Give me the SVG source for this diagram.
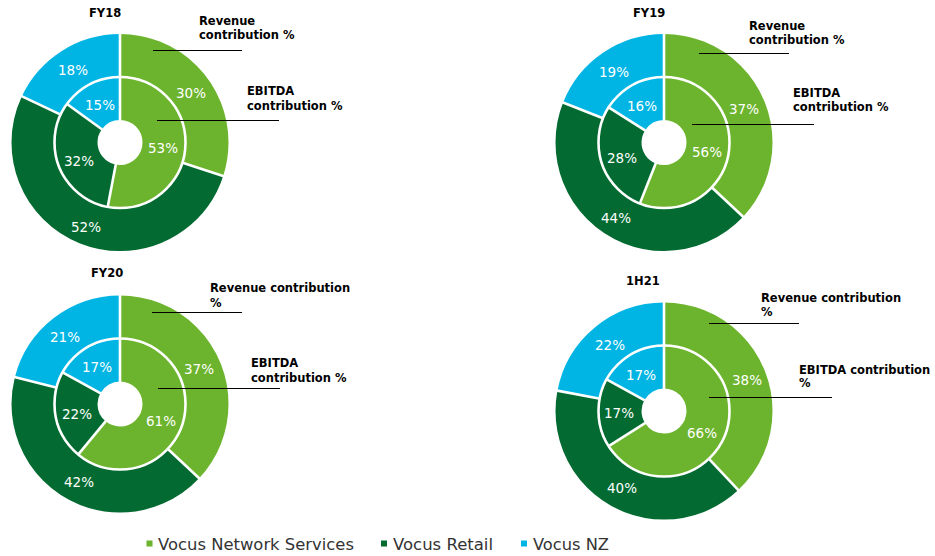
<svg xmlns="http://www.w3.org/2000/svg" width="935" height="556" viewBox="0 0 935 556">
<style>
.bg{fill:#fff}
.seg{fill:none}
.o{stroke-width:43}
.i{stroke-width:43}
.ns{stroke:#6CB42D}
.rt{stroke:#036B31}
.nz{stroke:#00B5E4}
.sep{stroke:#fff;stroke-width:2.6;fill:none}
.pct{font-family:"DejaVu Sans",Verdana,sans-serif;font-size:13.5px;fill:#fff;text-anchor:middle}
.ttl{font-family:"DejaVu Sans",Verdana,sans-serif;font-size:11.5px;font-weight:bold;fill:#000}
.lead{stroke:#000;stroke-width:1}
.leg{font-family:"DejaVu Sans",Verdana,sans-serif;font-size:15.5px;fill:#333}
</style>
<rect class="bg" x="0" y="0" width="935" height="556"/>

<g id="fy18">
  <g transform="translate(120,142.5)">
    <g transform="rotate(-90)">
      <circle class="seg o ns" r="87" pathLength="100" stroke-dasharray="30 100" stroke-dashoffset="0"/>
      <circle class="seg o rt" r="87" pathLength="100" stroke-dasharray="52 100" stroke-dashoffset="-30"/>
      <circle class="seg o nz" r="87" pathLength="100" stroke-dasharray="18 100" stroke-dashoffset="-82"/>
      <circle class="seg i ns" r="44" pathLength="100" stroke-dasharray="53 100" stroke-dashoffset="0"/>
      <circle class="seg i rt" r="44" pathLength="100" stroke-dasharray="32 100" stroke-dashoffset="-53"/>
      <circle class="seg i nz" r="44" pathLength="100" stroke-dasharray="15 100" stroke-dashoffset="-85"/>
    </g>
    <circle class="sep" r="65.5"/>
    <line class="sep" x1="0" y1="-22" x2="0" y2="-110"/>
    <line class="sep" x1="0" y1="-65" x2="0" y2="-110" transform="rotate(108)"/>
    <line class="sep" x1="0" y1="-65" x2="0" y2="-110" transform="rotate(295.2)"/>
    <line class="sep" x1="0" y1="-22" x2="0" y2="-66" transform="rotate(190.8)"/>
    <line class="sep" x1="0" y1="-22" x2="0" y2="-66" transform="rotate(306)"/>
  </g>
  <text class="pct" x="191" y="98">30%</text>
  <text class="pct" x="86" y="232">52%</text>
  <text class="pct" x="73" y="75">18%</text>
  <text class="pct" x="163" y="153">53%</text>
  <text class="pct" x="79" y="166">32%</text>
  <text class="pct" x="100" y="110">15%</text>
  <text class="ttl" x="89" y="17">FY18</text>
  <text class="ttl" x="199" y="25">Revenue</text>
  <text class="ttl" x="199" y="38.5">contribution %</text>
  <text class="ttl" x="247" y="95">EBITDA</text>
  <text class="ttl" x="247" y="110">contribution %</text>
</g>

<g id="fy19">
  <g transform="translate(664,142.5)">
    <g transform="rotate(-90)">
      <circle class="seg o ns" r="87" pathLength="100" stroke-dasharray="37 100" stroke-dashoffset="0"/>
      <circle class="seg o rt" r="87" pathLength="100" stroke-dasharray="44 100" stroke-dashoffset="-37"/>
      <circle class="seg o nz" r="87" pathLength="100" stroke-dasharray="19 100" stroke-dashoffset="-81"/>
      <circle class="seg i ns" r="44" pathLength="100" stroke-dasharray="56 100" stroke-dashoffset="0"/>
      <circle class="seg i rt" r="44" pathLength="100" stroke-dasharray="28 100" stroke-dashoffset="-56"/>
      <circle class="seg i nz" r="44" pathLength="100" stroke-dasharray="16 100" stroke-dashoffset="-84"/>
    </g>
    <circle class="sep" r="65.5"/>
    <line class="sep" x1="0" y1="-22" x2="0" y2="-110"/>
    <line class="sep" x1="0" y1="-65" x2="0" y2="-110" transform="rotate(133.2)"/>
    <line class="sep" x1="0" y1="-65" x2="0" y2="-110" transform="rotate(291.6)"/>
    <line class="sep" x1="0" y1="-22" x2="0" y2="-66" transform="rotate(201.6)"/>
    <line class="sep" x1="0" y1="-22" x2="0" y2="-66" transform="rotate(302.4)"/>
  </g>
  <text class="pct" x="744" y="114">37%</text>
  <text class="pct" x="616" y="223">44%</text>
  <text class="pct" x="614" y="77">19%</text>
  <text class="pct" x="707" y="157">56%</text>
  <text class="pct" x="622" y="163">28%</text>
  <text class="pct" x="642" y="111">16%</text>
  <text class="ttl" x="633" y="17">FY19</text>
  <text class="ttl" x="749" y="30">Revenue</text>
  <text class="ttl" x="749" y="44">contribution %</text>
  <text class="ttl" x="793" y="97">EBITDA</text>
  <text class="ttl" x="793" y="111">contribution %</text>
</g>

<g id="fy20">
  <g transform="translate(120,404)">
    <g transform="rotate(-90)">
      <circle class="seg o ns" r="87" pathLength="100" stroke-dasharray="37 100" stroke-dashoffset="0"/>
      <circle class="seg o rt" r="87" pathLength="100" stroke-dasharray="42 100" stroke-dashoffset="-37"/>
      <circle class="seg o nz" r="87" pathLength="100" stroke-dasharray="21 100" stroke-dashoffset="-79"/>
      <circle class="seg i ns" r="44" pathLength="100" stroke-dasharray="61 100" stroke-dashoffset="0"/>
      <circle class="seg i rt" r="44" pathLength="100" stroke-dasharray="22 100" stroke-dashoffset="-61"/>
      <circle class="seg i nz" r="44" pathLength="100" stroke-dasharray="17 100" stroke-dashoffset="-83"/>
    </g>
    <circle class="sep" r="65.5"/>
    <line class="sep" x1="0" y1="-22" x2="0" y2="-110"/>
    <line class="sep" x1="0" y1="-65" x2="0" y2="-110" transform="rotate(133.2)"/>
    <line class="sep" x1="0" y1="-65" x2="0" y2="-110" transform="rotate(284.4)"/>
    <line class="sep" x1="0" y1="-22" x2="0" y2="-66" transform="rotate(219.6)"/>
    <line class="sep" x1="0" y1="-22" x2="0" y2="-66" transform="rotate(298.8)"/>
  </g>
  <text class="pct" x="199" y="374">37%</text>
  <text class="pct" x="79" y="487">42%</text>
  <text class="pct" x="65" y="342">21%</text>
  <text class="pct" x="161" y="426">61%</text>
  <text class="pct" x="77" y="419">22%</text>
  <text class="pct" x="97" y="372">17%</text>
  <text class="ttl" x="91" y="277">FY20</text>
  <text class="ttl" x="210" y="292">Revenue contribution</text>
  <text class="ttl" x="210" y="307">%</text>
  <text class="ttl" x="251" y="367">EBITDA</text>
  <text class="ttl" x="251" y="382">contribution %</text>
</g>

<g id="h121">
  <g transform="translate(664,411)">
    <g transform="rotate(-90)">
      <circle class="seg o ns" r="87" pathLength="100" stroke-dasharray="38 100" stroke-dashoffset="0"/>
      <circle class="seg o rt" r="87" pathLength="100" stroke-dasharray="40 100" stroke-dashoffset="-38"/>
      <circle class="seg o nz" r="87" pathLength="100" stroke-dasharray="22 100" stroke-dashoffset="-78"/>
      <circle class="seg i ns" r="44" pathLength="100" stroke-dasharray="66 100" stroke-dashoffset="0"/>
      <circle class="seg i rt" r="44" pathLength="100" stroke-dasharray="17 100" stroke-dashoffset="-66"/>
      <circle class="seg i nz" r="44" pathLength="100" stroke-dasharray="17 100" stroke-dashoffset="-83"/>
    </g>
    <circle class="sep" r="65.5"/>
    <line class="sep" x1="0" y1="-22" x2="0" y2="-110"/>
    <line class="sep" x1="0" y1="-65" x2="0" y2="-110" transform="rotate(136.8)"/>
    <line class="sep" x1="0" y1="-65" x2="0" y2="-110" transform="rotate(280.8)"/>
    <line class="sep" x1="0" y1="-22" x2="0" y2="-66" transform="rotate(237.6)"/>
    <line class="sep" x1="0" y1="-22" x2="0" y2="-66" transform="rotate(298.8)"/>
  </g>
  <text class="pct" x="747" y="385">38%</text>
  <text class="pct" x="622" y="493">40%</text>
  <text class="pct" x="610" y="350">22%</text>
  <text class="pct" x="702" y="438">66%</text>
  <text class="pct" x="619" y="418">17%</text>
  <text class="pct" x="641" y="380">17%</text>
  <text class="ttl" x="626" y="285">1H21</text>
  <text class="ttl" x="761" y="302">Revenue contribution</text>
  <text class="ttl" x="761" y="315.5">%</text>
  <text class="ttl" x="799" y="374">EBITDA contribution</text>
  <text class="ttl" x="799" y="387">%</text>
</g>

<g id="connectors">
  <line class="lead" x1="153" y1="50.5" x2="242" y2="50.5"/>
  <line class="lead" x1="157" y1="120.5" x2="279" y2="120.5"/>
  <line class="lead" x1="699" y1="53.5" x2="789" y2="53.5"/>
  <line class="lead" x1="692" y1="124.5" x2="814" y2="124.5"/>
  <line class="lead" x1="152" y1="312.5" x2="242" y2="312.5"/>
  <line class="lead" x1="158" y1="388.5" x2="280" y2="388.5"/>
  <line class="lead" x1="709" y1="323.5" x2="799" y2="323.5"/>
  <line class="lead" x1="709" y1="397.5" x2="832" y2="397.5"/>
</g>

<g id="legend">
  <rect x="146.5" y="540.5" width="6" height="6" fill="#6CB42D"/>
  <text class="leg" x="158" y="550" textLength="196" lengthAdjust="spacingAndGlyphs">Vocus Network Services</text>
  <rect x="381" y="540.5" width="6" height="6" fill="#036B31"/>
  <text class="leg" x="393" y="550" textLength="100" lengthAdjust="spacingAndGlyphs">Vocus Retail</text>
  <rect x="521" y="540.5" width="6" height="6" fill="#00B5E4"/>
  <text class="leg" x="533" y="550" textLength="76" lengthAdjust="spacingAndGlyphs">Vocus NZ</text>
</g>
</svg>
